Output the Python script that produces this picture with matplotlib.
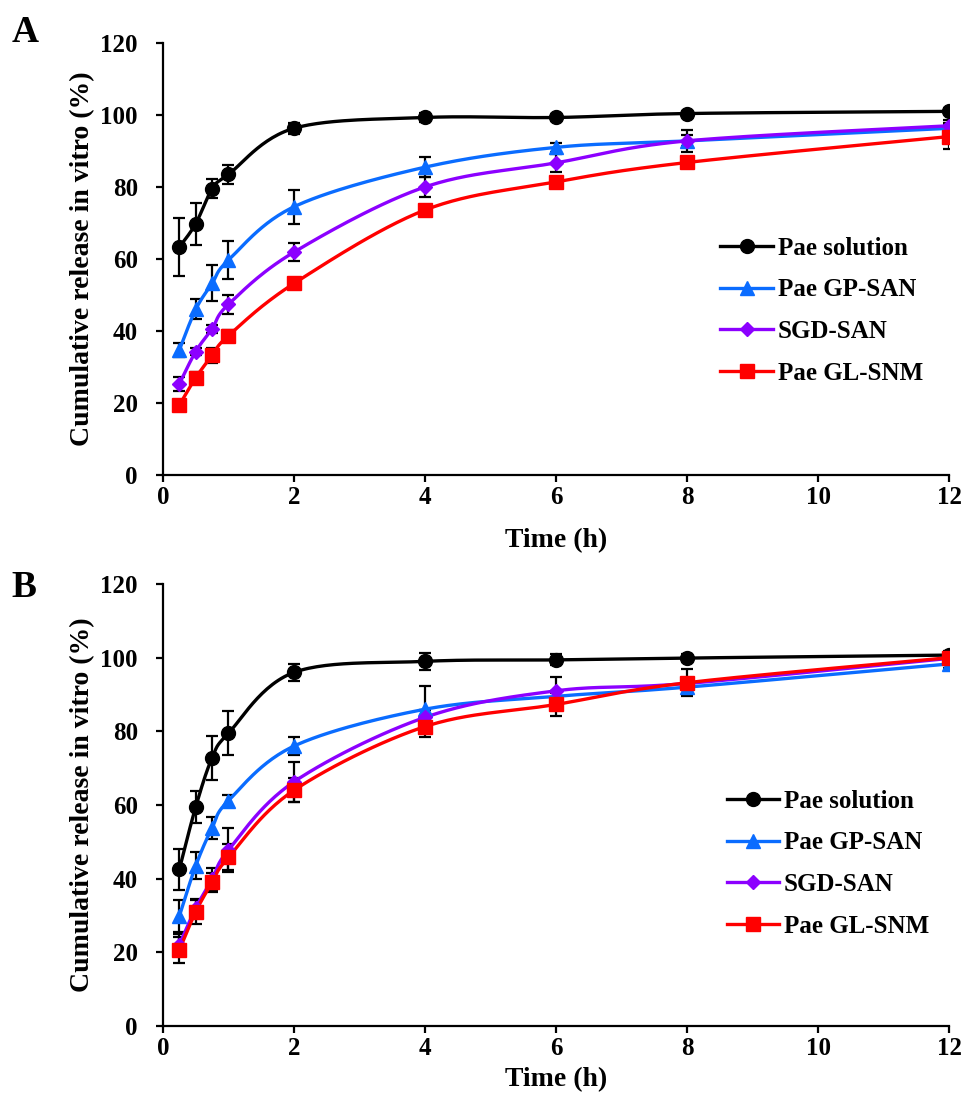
import numpy as np
import matplotlib
matplotlib.use('Agg')
import matplotlib.pyplot as plt
from matplotlib.lines import Line2D

plt.rcParams['font.family'] = ['Liberation Serif', 'DejaVu Serif']
plt.rcParams['font.weight'] = 'bold'

# time points (h)
t = [0.25, 0.5, 0.75, 1, 2, 4, 6, 8, 12]
labels = ['Pae solution', 'Pae GP-SAN', 'SGD-SAN', 'Pae GL-SNM']

# panel A
sol_a = [63.3, 69.8, 79.5, 83.5, 96.3, 99.3, 99.3, 100.4, 101.0]
sol_a_err = [8.0, 5.8, 2.6, 2.7, 1.5, 1.2, 1.0, 0.8, 0.8]
gp_a = [34.7, 46.0, 53.2, 59.7, 74.5, 85.5, 91.0, 92.8, 96.3]
gp_a_err = [2.0, 2.8, 5.0, 5.3, 4.7, 2.8, 1.2, 3.0, 1.5]
sgd_a = [25.3, 34.3, 40.6, 47.4, 61.9, 80.0, 86.7, 92.8, 97.0]
sgd_a_err = [2.0, 1.0, 1.2, 2.6, 2.5, 2.7, 2.5, 1.5, 1.5]
gl_a = [19.4, 27.0, 33.2, 38.7, 53.2, 73.6, 81.4, 86.8, 94.0]
gl_a_err = [1.5, 1.5, 2.2, 1.5, 1.5, 1.2, 1.5, 1.2, 3.5]

# panel B
sol_b = [42.5, 59.5, 72.8, 79.5, 96.0, 99.0, 99.4, 99.9, 100.7]
sol_b_err = [5.5, 4.3, 5.9, 5.9, 2.4, 2.3, 1.5, 1.0, 1.2]
gp_b = [29.8, 43.5, 53.8, 61.2, 76.0, 86.0, 89.5, 92.0, 98.3]
gp_b_err = [4.3, 3.7, 3.0, 1.5, 2.4, 6.2, 1.5, 1.5, 1.0]
sgd_b = [22.0, 32.0, 39.8, 47.8, 66.3, 83.8, 91.0, 93.0, 99.8]
sgd_b_err = [3.0, 2.5, 3.0, 6.0, 5.4, 2.0, 3.8, 1.5, 1.2]
gl_b = [20.6, 31.0, 39.0, 45.8, 64.0, 81.3, 87.3, 93.2, 100.0]
gl_b_err = [3.5, 3.3, 2.5, 3.5, 3.3, 2.7, 3.0, 3.6, 1.5]

colors = ['#000000', '#0a6cff', '#8c00ff', '#ff0000']
markers = ['o', '^', 'D', 's']
msizes = [10, 10, 7, 9.5]


def smooth(x, y, n=30):
    # excel-style bezier smoothing through the points
    p = np.column_stack([x, y]).astype(float)
    pts = []
    for i in range(len(p) - 1):
        p0 = p[i - 1] if i > 0 else p[i]
        p3 = p[i + 2] if i + 2 < len(p) else p[i + 1]
        c1 = p[i] + (p[i + 1] - p0) / 6
        c2 = p[i + 1] - (p3 - p[i]) / 6
        s = np.linspace(0, 1, n)[:, None]
        seg = ((1 - s) ** 3 * p[i] + 3 * (1 - s) ** 2 * s * c1
               + 3 * (1 - s) * s ** 2 * c2 + s ** 3 * p[i + 1])
        pts.append(seg if i == 0 else seg[1:])
    pts = np.vstack(pts)
    return pts[:, 0], pts[:, 1]


def panel(ax, series, errs, leg_xy, xpad):
    for k, (y, e) in enumerate(zip(series, errs)):
        ax.errorbar(t, y, yerr=e, fmt='none', ecolor='black', elinewidth=1.6,
                    capsize=4, capthick=1.6, zorder=2)
    for k, y in enumerate(series):
        sx, sy = smooth(t, y)
        ax.plot(sx, sy, color=colors[k], lw=2.4, zorder=3)
        ax.plot(t, y, ls='none', marker=markers[k], ms=msizes[k],
                color=colors[k], zorder=4)
    ax.set_xlim(0, 12)
    ax.set_ylim(0, 120)
    ax.set_xticks(range(0, 13, 2))
    ax.set_yticks(range(0, 121, 20))
    ax.spines['top'].set_visible(False)
    ax.spines['right'].set_visible(False)
    for s in ['left', 'bottom']:
        ax.spines[s].set_linewidth(1.6)
    ax.tick_params(direction='out', length=5, width=1.6, labelsize=18)
    ax.tick_params(axis='x', pad=3)
    ax.tick_params(axis='y', pad=13)
    ax.set_xlabel('Time (h)', fontsize=20, fontweight='bold', labelpad=xpad)
    ax.set_ylabel('Cumulative release in vitro (%)', fontsize=20,
                  fontweight='bold', labelpad=4)
    handles = [Line2D([], [], color=colors[k], lw=2.4, marker=markers[k],
                      ms=msizes[k]) for k in range(4)]
    ax.legend(handles, labels, loc='center left', bbox_to_anchor=leg_xy,
              frameon=False, fontsize=18, handlelength=2.1, handletextpad=0.2,
              labelspacing=0.75, borderpad=0, borderaxespad=0)


fig = plt.figure(figsize=(9.62, 10.99), dpi=100)
ax1 = fig.add_axes([0.1694, 0.5678, 0.8171, 0.3931])
ax2 = fig.add_axes([0.1694, 0.0664, 0.8171, 0.4022])

panel(ax1, [sol_a, gp_a, sgd_a, gl_a],
      [sol_a_err, gp_a_err, sgd_a_err, gl_a_err], (0.709, 0.38), 14)
panel(ax2, [sol_b, gp_b, sgd_b, gl_b],
      [sol_b_err, gp_b_err, sgd_b_err, gl_b_err], (0.717, 0.367), 5)

fig.text(0.012, 0.962, 'A', fontsize=27, fontweight='bold')
fig.text(0.012, 0.457, 'B', fontsize=27, fontweight='bold')

fig.savefig('out.png', dpi=100)
